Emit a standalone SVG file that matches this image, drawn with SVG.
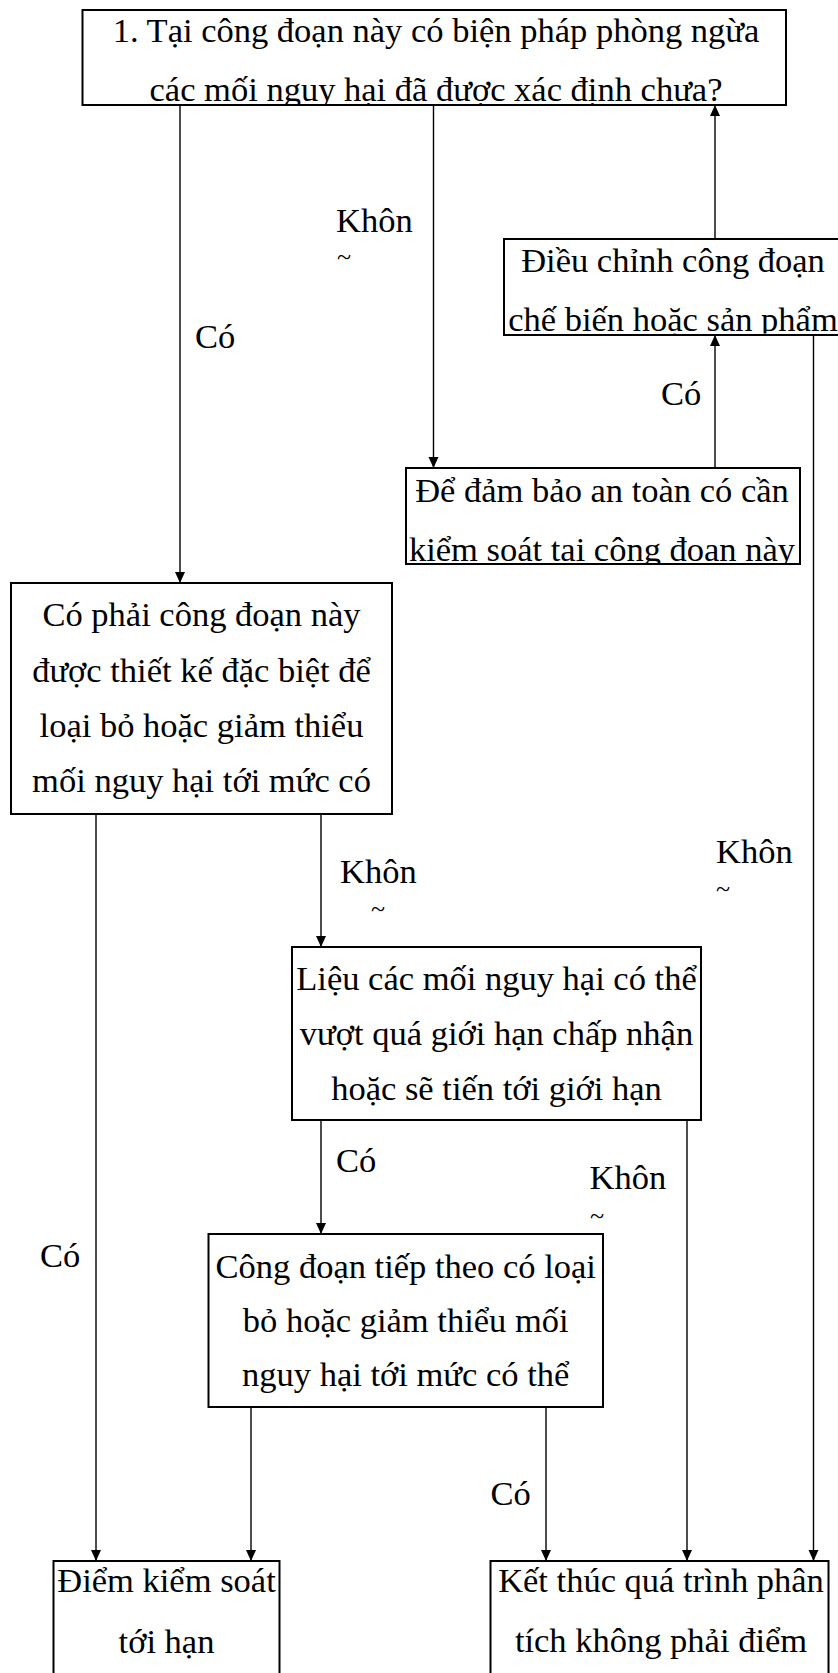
<svg xmlns="http://www.w3.org/2000/svg" width="838" height="1673" viewBox="0 0 838 1673">
<style>
.box{fill:#fff;stroke:#000;stroke-width:2}
.t{font-family:"Liberation Serif","Times New Roman",serif;font-size:34.5px;fill:#000;text-anchor:middle}
.l{font-family:"Liberation Serif","Times New Roman",serif;font-size:34.5px;fill:#000}
.tl{font-family:"Liberation Serif","Times New Roman",serif;font-size:26px;fill:#000}
.c{stroke:#000;stroke-width:1.4;fill:none;marker-end:url(#ah)}
</style>
<defs>
<marker id="ah" markerUnits="userSpaceOnUse" markerWidth="12" markerHeight="12" refX="11" refY="5" orient="auto">
<path d="M0,0 L11,5 L0,10 z" fill="#000"/>
</marker>
<clipPath id="c1"><rect x="83" y="11" width="702" height="93"/></clipPath>
<clipPath id="c2"><rect x="505" y="240" width="333" height="93.5"/></clipPath>
<clipPath id="c3"><rect x="407" y="469" width="392" height="94"/></clipPath>
<clipPath id="c4"><rect x="12" y="584" width="379" height="229"/></clipPath>
<clipPath id="c5"><rect x="293" y="948" width="407" height="171"/></clipPath>
<clipPath id="c6"><rect x="209" y="1235" width="393" height="171"/></clipPath>
<clipPath id="c7"><rect x="54" y="1562" width="225" height="111"/></clipPath>
<clipPath id="c8"><rect x="491" y="1562" width="337" height="111"/></clipPath>
</defs>

<g id="connectors">
<line class="c" x1="180" y1="105" x2="180" y2="583"/>
<line class="c" x1="433.5" y1="105" x2="433.5" y2="468"/>
<line class="c" x1="715" y1="238" x2="715" y2="105"/>
<line class="c" x1="715" y1="468" x2="715" y2="335"/>
<line class="c" x1="813.5" y1="335" x2="813.5" y2="1561"/>
<line class="c" x1="96" y1="814" x2="96" y2="1561"/>
<line class="c" x1="321" y1="814" x2="321" y2="947"/>
<line class="c" x1="321" y1="1120" x2="321" y2="1234"/>
<line class="c" x1="687" y1="1120" x2="687" y2="1561"/>
<line class="c" x1="251" y1="1407" x2="251" y2="1561"/>
<line class="c" x1="546" y1="1407" x2="546" y2="1561"/>
<text class="l" x="336" y="232">Khôn</text>
<text class="tl" x="337" y="265">~</text>
<text class="l" x="195" y="348">Có</text>
<text class="l" x="661" y="405">Có</text>
<text class="l" x="340" y="883">Khôn</text>
<text class="tl" x="371" y="917">~</text>
<text class="l" x="716" y="863">Khôn</text>
<text class="tl" x="716" y="897">~</text>
<text class="l" x="336" y="1172">Có</text>
<text class="l" x="589.5" y="1189">Khôn</text>
<text class="tl" x="590" y="1224">~</text>
<text class="l" x="40" y="1267">Có</text>
<text class="l" x="490.6" y="1505">Có</text>
</g>

<g id="n1">
<rect class="box" x="82.5" y="10" width="703.5" height="95"/>
<g clip-path="url(#c1)">
<text class="t" x="436" y="42">1. Tại công đoạn này có biện pháp phòng ngừa</text>
<text class="t" x="436" y="101">các mối nguy hại đã được xác định chưa?</text>
</g>
</g>

<g id="n2">
<rect class="box" x="504" y="239" width="340" height="96"/>
<g clip-path="url(#c2)">
<text class="t" x="673" y="272">Điều chỉnh công đoạn</text>
<text class="t" x="673" y="331">chế biến hoặc sản phẩm</text>
</g>
</g>

<g id="n3">
<rect class="box" x="406" y="468" width="394" height="96"/>
<g clip-path="url(#c3)">
<text class="t" x="602" y="502">Để đảm bảo an toàn có cần</text>
<text class="t" x="602" y="561">kiểm soát tại công đoạn này</text>
</g>
</g>

<g id="n4">
<rect class="box" x="11" y="583" width="381" height="231"/>
<g clip-path="url(#c4)">
<text class="t" x="201.5" y="626">Có phải công đoạn này</text>
<text class="t" x="201.5" y="681.5">được thiết kế đặc biệt để</text>
<text class="t" x="201.5" y="737">loại bỏ hoặc giảm thiểu</text>
<text class="t" x="201.5" y="792">mối nguy hại tới mức có</text>
</g>
</g>

<g id="n5">
<rect class="box" x="292" y="947" width="409" height="173"/>
<g clip-path="url(#c5)">
<text class="t" x="496.5" y="990">Liệu các mối nguy hại có thể</text>
<text class="t" x="496.5" y="1045">vượt quá giới hạn chấp nhận</text>
<text class="t" x="496.5" y="1100">hoặc sẽ tiến tới giới hạn</text>
</g>
</g>

<g id="n6">
<rect class="box" x="208.5" y="1234" width="394.5" height="173"/>
<g clip-path="url(#c6)">
<text class="t" x="405.7" y="1277.5">Công đoạn tiếp theo có loại</text>
<text class="t" x="405.7" y="1331.5">bỏ hoặc giảm thiểu mối</text>
<text class="t" x="405.7" y="1385.5">nguy hại tới mức có thể</text>
</g>
</g>

<g id="n7">
<rect class="box" x="53.5" y="1561" width="226" height="130"/>
<g clip-path="url(#c7)">
<text class="t" x="166.5" y="1592">Điểm kiểm soát</text>
<text class="t" x="166.5" y="1653">tới hạn</text>
</g>
</g>

<g id="n8">
<rect class="box" x="490.5" y="1561" width="338" height="130"/>
<g clip-path="url(#c8)">
<text class="t" x="661" y="1592">Kết thúc quá trình phân</text>
<text class="t" x="661" y="1652">tích không phải điểm</text>
</g>
</g>
</svg>
